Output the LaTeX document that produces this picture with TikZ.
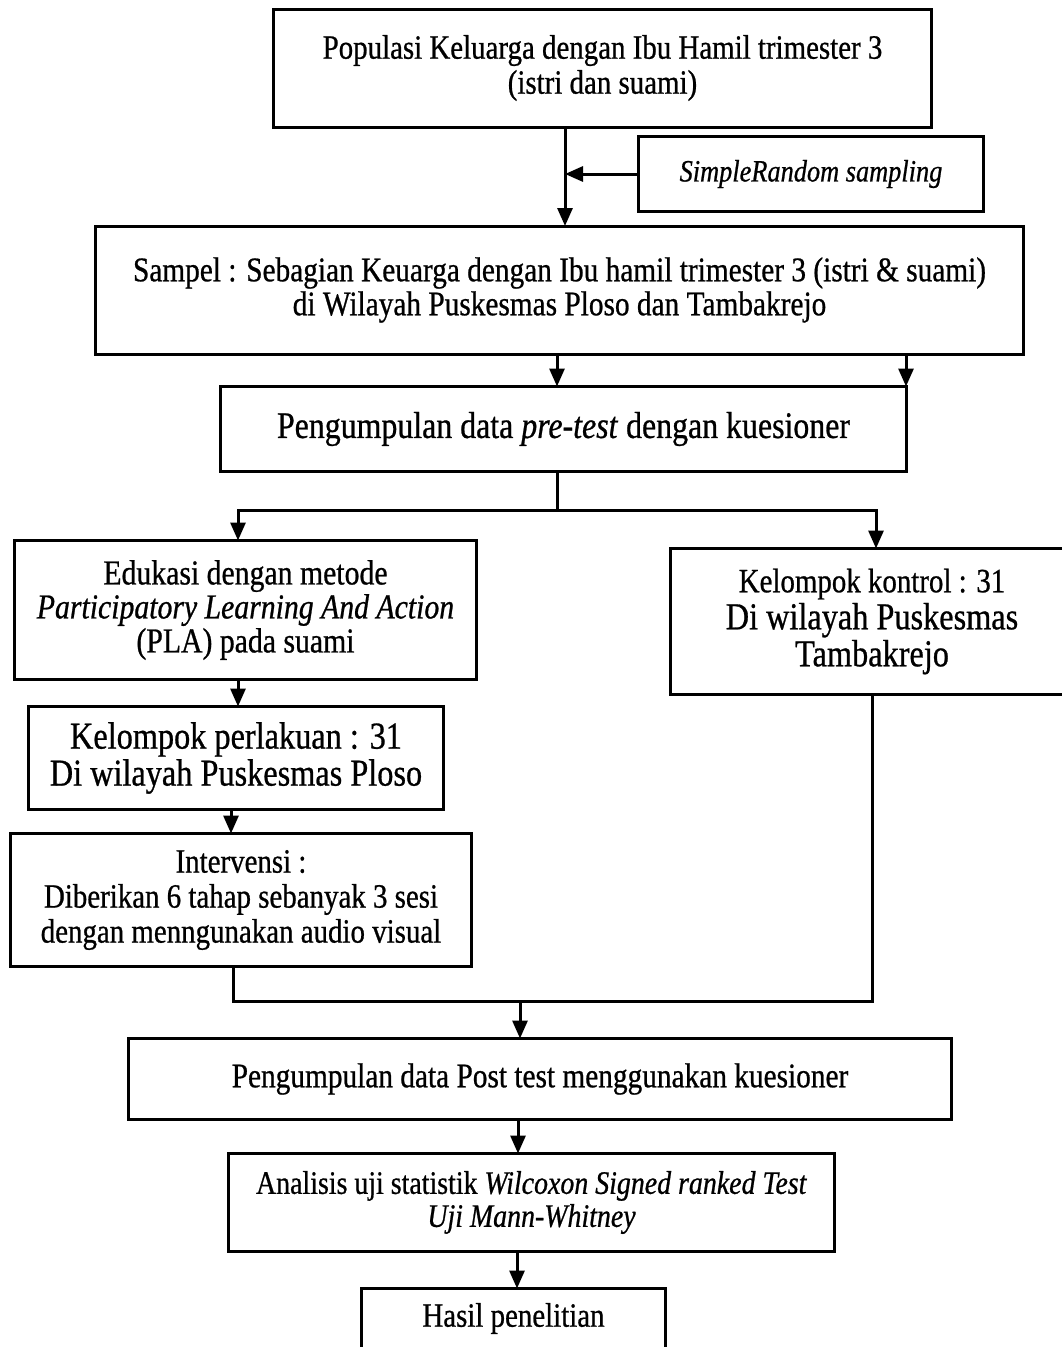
\documentclass[tikz,border=0pt]{standalone}
\usepackage{fontspec}
\setmainfont{Liberation Serif}[FakeStretch=0.85,FakeBold=0.7]
\usetikzlibrary{arrows.meta}
\newcommand\fsz[2]{\fontsize{#1pt}{#2pt}\selectfont}
\begin{document}
\begin{tikzpicture}[x=1pt,y=-1pt,
  line width=3pt,
  box/.style={inner sep=0pt, align=center},
  arr/.style={-{Triangle[length=18pt,width=15pt]}},
  link/.style={line cap=rect}]
\useasboundingbox (0,0) rectangle (1062,1347);

% box texts
\node[box, minimum width=655pt, minimum height=115pt, font=\fsz{34}{35}] (pop) at (602.5,68)
  {Populasi Keluarga dengan Ibu Hamil trimester 3\\(istri dan suami)};
\node[box, minimum width=342pt, minimum height=72pt, font=\fsz{31}{35}] (rand) at (811,174)
  {\itshape SimpleRandom sampling};
\node[box, minimum width=925pt, minimum height=125pt, font=\fsz{34.5}{34}] (sam) at (559.5,290)
  {Sampel : Sebagian Keuarga dengan Ibu hamil trimester 3 (istri \& suami)\\di Wilayah Puskesmas Ploso dan Tambakrejo};
\node[box, minimum width=683pt, minimum height=82pt, font=\fsz{37.5}{40}] (pre) at (563.5,429)
  {Pengumpulan data \textit{pre-test} dengan kuesioner};
\node[box, minimum width=459pt, minimum height=136pt, font=\fsz{35}{34}] (edu) at (245.5,610)
  {Edukasi dengan metode\\\textit{Participatory Learning And Action}\\(PLA) pada suami};
\node[box, minimum width=400pt, minimum height=143pt, font=\fsz{38}{37}] (kon) at (872,621.5)
  {{\fsz{34}{37}Kelompok kontrol : 31}\\Di wilayah Puskesmas\\Tambakrejo};
\node[box, minimum width=412pt, minimum height=100pt, font=\fsz{38}{37}] (perl) at (236,758)
  {Kelompok perlakuan : 31\\Di wilayah Puskesmas Ploso};
\node[box, minimum width=458pt, minimum height=130pt, font=\fsz{34}{35}] (int) at (241,900)
  {Intervensi :\\Diberikan 6 tahap sebanyak 3 sesi\\dengan menngunakan audio visual};
\node[box, minimum width=820pt, minimum height=78pt, font=\fsz{34.5}{35}] (post) at (540,1079)
  {Pengumpulan data Post test menggunakan kuesioner};
\node[box, minimum width=603pt, minimum height=95pt, font=\fsz{32.8}{33}] (ana) at (531.5,1202.5)
  {Analisis uji statistik \textit{Wilcoxon Signed ranked Test}\\\textit{Uji Mann-Whitney}};
\node[box, minimum width=301pt, minimum height=57pt, font=\fsz{34}{35}] (has) at (513.5,1318.5)
  {Hasil penelitian};

% frames
\foreach \n in {pop,rand,sam,pre,edu,perl,int,post,ana}
  \draw (\n.north west) rectangle (\n.south east);
% frames running past the page edge
\coordinate (edge) at (1062,0);
\draw (edge |- kon.north) -- (kon.north west) -- (kon.south west) -- (edge |- kon.south);
\draw (has.south west) -- (has.north west) -- (has.north east) -- (has.south east);

% guide columns for the connectors
\coordinate (c1) at (565,0);
\coordinate (c2) at (557,0);
\coordinate (c3) at (906,0);
\coordinate (cl) at (238,510);
\coordinate (cr) at (876,510);
\coordinate (c4) at (231,0);
\coordinate (ml) at (233,1001);
\coordinate (mr) at (872,1001);
\coordinate (c5) at (520,0);
\coordinate (c6) at (518,0);
\coordinate (c7) at (517,0);

% connectors
\draw[arr] (c1 |- pop.south) -- (c1 |- sam.north);
\draw[arr] (rand.west) -- (c1 |- rand.west);
\draw[arr] (c2 |- sam.south) -- (c2 |- pre.north);
\draw[arr] (c3 |- sam.south) -- (c3 |- pre.north);
\draw (c2 |- pre.south) -- (c2 |- cl);
\draw[link] (cl) -- (cr);
\draw[arr] (cl) -- (cl |- edu.north);
\draw[arr] (cr) -- (cr |- kon.north);
\draw[arr] (cl |- edu.south) -- (cl |- perl.north);
\draw[arr] (c4 |- perl.south) -- (c4 |- int.north);
\draw (ml |- int.south) -- (ml);
\draw (mr |- kon.south) -- (mr);
\draw[link] (ml) -- (mr);
\draw[arr] (c5 |- ml) -- (c5 |- post.north);
\draw[arr] (c6 |- post.south) -- (c6 |- ana.north);
\draw[arr] (c7 |- ana.south) -- (c7 |- has.north);
\end{tikzpicture}
\end{document}
